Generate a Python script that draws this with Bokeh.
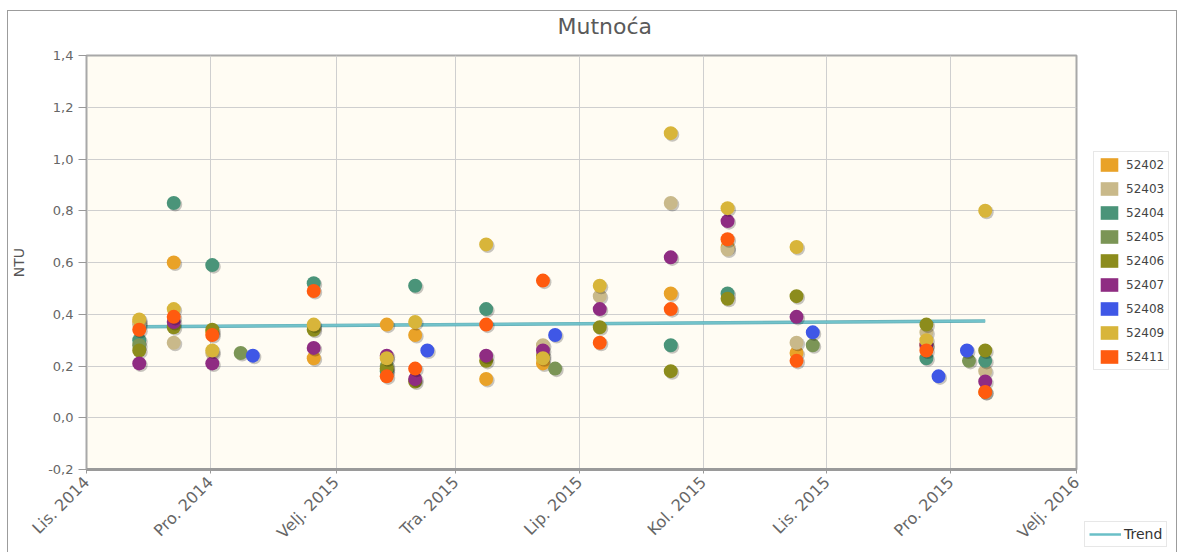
from datetime import datetime
from math import pi

from bokeh.plotting import figure
from bokeh.layouts import row, column
from bokeh.models import (ColumnDataSource, Range1d, FixedTicker, CustomJSTickFormatter,
                          Legend, LegendItem)
from bokeh.transform import dodge
from bokeh.embed import file_html
from bokeh.resources import INLINE

# ---------------- data ----------------
series_names = ["52402", "52403", "52404", "52405", "52406", "52407", "52408", "52409", "52411"]
series_colors = ["#E9A228", "#C9B98A", "#4A9479", "#7B9556", "#8C8C1C",
                 "#8F2C82", "#3F57E6", "#D8B53A", "#FF5B0F"]

s52402_dates = ["2014-10-27", "2014-11-13", "2014-12-02", "2015-01-21", "2015-02-26", "2015-03-12",
                "2015-04-16", "2015-05-14", "2015-07-16", "2015-08-13", "2015-09-16", "2015-11-19",
                "2015-12-18"]
s52402_vals = [0.37, 0.60, 0.33, 0.23, 0.36, 0.32, 0.15, 0.21, 0.48, 0.66, 0.25, 0.28, 0.10]

s52403_dates = ["2014-10-27", "2014-11-13", "2014-12-02", "2015-01-21", "2015-05-14", "2015-06-11",
                "2015-07-16", "2015-08-13", "2015-09-16", "2015-11-19", "2015-12-18"]
s52403_vals = [0.36, 0.29, 0.25, 0.35, 0.28, 0.47, 0.83, 0.65, 0.29, 0.33, 0.18]

s52404_dates = ["2014-10-27", "2014-11-13", "2014-12-02", "2015-01-21", "2015-02-26", "2015-03-12",
                "2015-04-16", "2015-07-16", "2015-08-13", "2015-11-19", "2015-12-18"]
s52404_vals = [0.30, 0.83, 0.59, 0.52, 0.18, 0.51, 0.42, 0.28, 0.48, 0.23, 0.22]

s52405_dates = ["2014-10-27", "2014-12-16", "2015-02-26", "2015-05-20", "2015-09-24", "2015-12-10"]
s52405_vals = [0.28, 0.25, 0.20, 0.19, 0.28, 0.22]

s52406_dates = ["2014-10-27", "2014-11-13", "2014-12-02", "2015-01-21", "2015-02-26", "2015-03-12",
                "2015-04-16", "2015-05-14", "2015-06-11", "2015-07-16", "2015-08-13", "2015-09-16",
                "2015-11-19", "2015-12-18"]
s52406_vals = [0.26, 0.35, 0.34, 0.34, 0.19, 0.14, 0.22, 0.24, 0.35, 0.18, 0.46, 0.47, 0.36, 0.26]

s52407_dates = ["2014-10-27", "2014-11-13", "2014-12-02", "2015-01-21", "2015-02-26", "2015-03-12",
                "2015-04-16", "2015-05-14", "2015-06-11", "2015-07-16", "2015-08-13", "2015-09-16",
                "2015-11-19", "2015-12-18"]
s52407_vals = [0.21, 0.37, 0.21, 0.27, 0.24, 0.15, 0.24, 0.26, 0.42, 0.62, 0.76, 0.39, 0.28, 0.14]

s52408_dates = ["2014-12-22", "2015-03-18", "2015-05-20", "2015-09-24", "2015-11-25", "2015-12-09"]
s52408_vals = [0.24, 0.26, 0.32, 0.33, 0.16, 0.26]

s52409_dates = ["2014-10-27", "2014-11-13", "2014-12-02", "2015-01-21", "2015-02-26", "2015-03-12",
                "2015-04-16", "2015-05-14", "2015-06-11", "2015-07-16", "2015-08-13", "2015-09-16",
                "2015-11-19", "2015-12-18"]
s52409_vals = [0.38, 0.42, 0.26, 0.36, 0.23, 0.37, 0.67, 0.23, 0.51, 1.10, 0.81, 0.66, 0.30, 0.80]

s52411_dates = ["2014-10-27", "2014-11-13", "2014-12-02", "2015-01-21", "2015-02-26", "2015-03-12",
                "2015-04-16", "2015-05-14", "2015-06-11", "2015-07-16", "2015-08-13", "2015-09-16",
                "2015-11-19", "2015-12-18"]
s52411_vals = [0.34, 0.39, 0.32, 0.49, 0.16, 0.19, 0.36, 0.53, 0.29, 0.42, 0.69, 0.22, 0.26, 0.10]

series_dates = [s52402_dates, s52403_dates, s52404_dates, s52405_dates, s52406_dates,
                s52407_dates, s52408_dates, s52409_dates, s52411_dates]
series_vals = [s52402_vals, s52403_vals, s52404_vals, s52405_vals, s52406_vals,
               s52407_vals, s52408_vals, s52409_vals, s52411_vals]

trend_dates = ["2014-10-27", "2015-12-18"]
trend_vals = [0.352, 0.374]

x_tick_dates = ["2014-10-01", "2014-12-01", "2015-02-01", "2015-04-01", "2015-06-01",
                "2015-08-01", "2015-10-01", "2015-12-01", "2016-02-01"]
x_tick_labels = ["Lis. 2014", "Pro. 2014", "Velj. 2015", "Tra. 2015", "Lip. 2015",
                 "Kol. 2015", "Lis. 2015", "Pro. 2015", "Velj. 2016"]
y_ticks = [-0.2, 0.0, 0.2, 0.4, 0.6, 0.8, 1.0, 1.2, 1.4]

EPOCH = datetime(1970, 1, 1)


def ms(s):
    return (datetime.strptime(s, "%Y-%m-%d") - EPOCH).total_seconds() * 1000.0


FONT = "DejaVu Sans"
BORDER = "1px solid #9c9c9c"


def bare_figure(width, height):
    f = figure(width=width, height=height, output_backend="svg", toolbar_location=None,
               x_axis_location=None, y_axis_location=None,
               x_range=Range1d(0, 1), y_range=Range1d(0, 1),
               min_border_left=0, min_border_right=0, min_border_top=0, min_border_bottom=0)
    f.grid.visible = False
    f.outline_line_color = None
    f.background_fill_color = "white"
    f.border_fill_color = "white"
    f.frame_align = False
    return f


# ---------------- title strip ----------------
strip = bare_figure(1170, 35)
strip.styles = {"border-left": BORDER, "border-top": BORDER, "border-right": BORDER}
strip.title.text = "Mutnoća"
strip.title.align = "left"
strip.title.offset = 549
strip.title.standoff = 0
strip.title.text_font = FONT
strip.title.text_font_size = "22px"
strip.title.text_font_style = "normal"
strip.title.text_color = "#5A5A5A"

# ---------------- main figure ----------------
fig = figure(width=1076, height=507, output_backend="svg", toolbar_location=None,
             x_range=Range1d(ms("2014-10-01"), ms("2016-02-01")),
             y_range=Range1d(-0.2, 1.4),
             min_border_left=78, min_border_right=8, min_border_top=10, min_border_bottom=82)
fig.frame_align = False
fig.styles = {"border-left": BORDER}
fig.background_fill_color = "#FFFCF3"
fig.border_fill_color = "white"
fig.outline_line_color = "#A8A8A8"
fig.outline_line_width = 2

fig.xgrid.grid_line_color = "#CFCFCF"
fig.ygrid.grid_line_color = "#CFCFCF"

# y axis
fig.yaxis.ticker = FixedTicker(ticks=y_ticks)
fig.yaxis.formatter = CustomJSTickFormatter(
    code="return tick.toFixed(1).replace('.', ',').replace('-0,0','0,0')")
fig.yaxis.axis_label = "NTU"
fig.yaxis.axis_label_text_font = FONT
fig.yaxis.axis_label_text_font_style = "normal"
fig.yaxis.axis_label_text_font_size = "14px"
fig.yaxis.axis_label_text_color = "#555555"
fig.yaxis.axis_label_standoff = 18
fig.yaxis.major_label_text_font = FONT
fig.yaxis.major_label_text_font_size = "13px"
fig.yaxis.major_label_text_color = "#666666"
fig.yaxis.major_label_standoff = 5
fig.yaxis.major_tick_out = 8
fig.yaxis.major_tick_in = 0
fig.yaxis.major_tick_line_color = "#999999"
fig.yaxis.minor_tick_line_color = None
fig.yaxis.axis_line_color = "#A8A8A8"

# x axis
x_ticks_ms = [ms(d) for d in x_tick_dates]
fig.xaxis.ticker = FixedTicker(ticks=x_ticks_ms)
fig.xaxis.major_label_overrides = {t: lab for t, lab in zip(x_ticks_ms, x_tick_labels)}
fig.xaxis.major_label_orientation = pi / 4
fig.xaxis.major_label_text_font = FONT
fig.xaxis.major_label_text_font_size = "16px"
fig.xaxis.major_label_text_color = "#666666"
fig.xaxis.major_label_standoff = 6
fig.xaxis.major_tick_out = 4
fig.xaxis.major_tick_in = 0
fig.xaxis.major_tick_line_color = "#999999"
fig.xaxis.minor_tick_line_color = None
fig.xaxis.axis_line_color = "#9A9A9A"
fig.xaxis.axis_line_width = 3

# trend
trend_src = ColumnDataSource(dict(x=[ms(d) for d in trend_dates], y=trend_vals))
fig.line("x", "y", source=trend_src, line_color="#3E9AA6", line_width=3.5, line_alpha=0.8)
fig.line("x", "y", source=trend_src, line_color="#72C3CB", line_width=2.2)

# points
shadow_dx = 0.75 * 86400000.0
shadow_dy = -0.006
sources = []
for name, color, dates, vals in zip(series_names, series_colors, series_dates, series_vals):
    src = ColumnDataSource(dict(x=[ms(d) for d in dates], y=vals))
    sources.append(src)
    fig.scatter(x=dodge("x", shadow_dx), y=dodge("y", shadow_dy), source=src, size=14,
                fill_color="black", fill_alpha=0.22, line_color=None)
    fig.scatter("x", "y", source=src, size=14, fill_color=color, line_color=None)

# ---------------- legend strip (right side) ----------------
leg = bare_figure(94, 507)
leg.styles = {"border-right": BORDER}

legend_items = []
for name, color, src in zip(series_names, series_colors, sources):
    # zero-area proxies (outside the strip's range) that only lend their colour to the legend
    sq = leg.quad(left="x", right="x", top="y", bottom="y", source=src,
                  fill_color=color, line_color=None)
    legend_items.append(LegendItem(label=name, renderers=[sq]))
trend_proxy = leg.line("x", "y", source=trend_src, line_color="#6ABFC7", line_width=2.5)

legend = Legend(items=legend_items, location=(10, 182), orientation="vertical",
                glyph_width=22, glyph_height=17, label_height=17, spacing=7, padding=4,
                label_standoff=6, label_text_font=FONT, label_text_font_size="12px",
                label_text_color="#444444", border_line_color="#CFCFCF",
                background_fill_color="white", background_fill_alpha=1.0, margin=0)
leg.add_layout(legend)

legend2 = Legend(items=[LegendItem(label="Trend", renderers=[trend_proxy])], location=(1, 5),
                 glyph_width=32, glyph_height=16, label_height=16, padding=4, label_standoff=3,
                 label_text_font=FONT, label_text_font_size="14px", label_text_color="#333333",
                 border_line_color="#CFCFCF", background_fill_color="white",
                 background_fill_alpha=1.0, margin=0)
leg.add_layout(legend2)

p = column(strip, row(fig, leg, spacing=0), spacing=0)
p.styles = {"margin-left": "7px", "margin-top": "10px"}

open("out.html", "w").write(file_html(p, INLINE))
